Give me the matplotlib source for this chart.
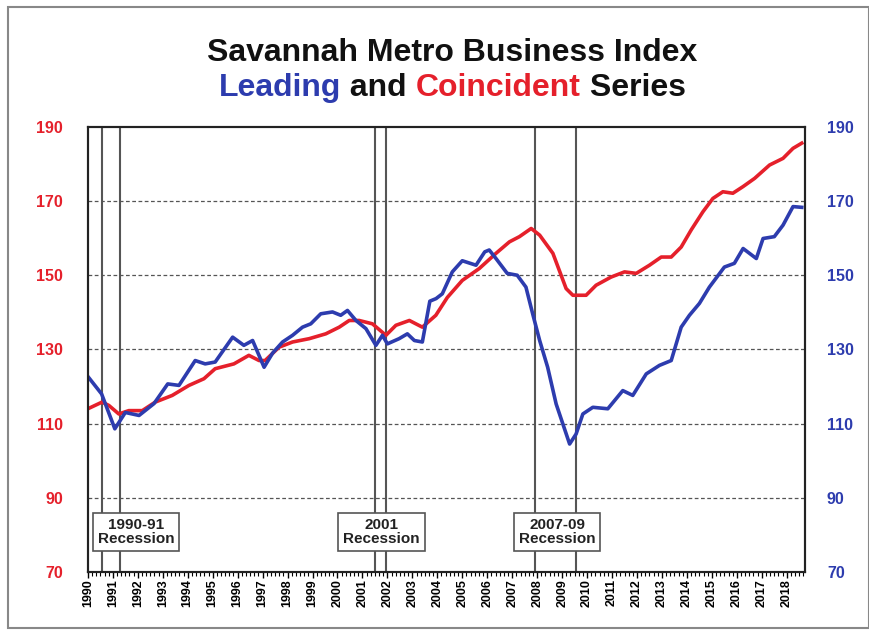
import matplotlib
matplotlib.use("Agg")
import matplotlib.pyplot as plt
import numpy as np
from matplotlib.patches import Rectangle

plt.rcParams['font.family'] = ['Liberation Sans', 'DejaVu Sans']

# Leading series (time in fractional years, index value)
lead_t = [1990.0, 1990.55, 1991.08, 1991.5, 1992.05, 1992.65, 1993.2, 1993.65, 1994.3, 1994.7,
          1995.1, 1995.8, 1996.25, 1996.6, 1997.06, 1997.4, 1997.8, 1998.2, 1998.6, 1998.93,
          1999.33, 1999.8, 2000.13, 2000.4, 2000.74, 2001.14, 2001.54, 2001.8, 2002.0, 2002.47,
          2002.8, 2003.08, 2003.4, 2003.7, 2003.95, 2004.2, 2004.6, 2005.0, 2005.55, 2005.9,
          2006.08, 2006.35, 2006.8, 2007.2, 2007.55, 2007.82, 2008.1, 2008.42, 2008.76, 2009.3,
          2009.56, 2009.83, 2010.23, 2010.83, 2011.43, 2011.83, 2012.37, 2012.9, 2013.37, 2013.77,
          2014.1, 2014.5, 2014.9, 2015.5, 2015.9, 2016.25, 2016.78, 2017.05, 2017.5, 2017.85,
          2018.25, 2018.6]
lead_v = [122.7, 118.0, 108.6, 113.0, 112.2, 115.4, 120.7, 120.3, 127.0, 126.1,
          126.6, 133.3, 131.1, 132.4, 125.2, 129.0, 132.0, 133.8, 136.0, 136.9,
          139.6, 140.1, 139.2, 140.5, 137.8, 135.6, 131.1, 133.8, 131.5, 132.9,
          134.2, 132.4, 132.0, 143.0, 143.7, 145.0, 150.9, 153.9, 152.7, 156.3,
          156.8, 154.5, 150.5, 150.0, 146.8, 139.6, 132.4, 125.2, 115.3, 104.5,
          107.2, 112.6, 114.4, 114.0, 118.9, 117.6, 123.4, 125.7, 127.0, 136.0,
          139.2, 142.4, 146.8, 152.2, 153.2, 157.2, 154.5, 159.9, 160.4, 163.5,
          168.5, 168.3]

# Coincident series
coin_t = [1990.0, 1990.57, 1990.84, 1991.24, 1991.64, 1992.18, 1992.7, 1993.38, 1994.05, 1994.65,
          1995.1, 1995.85, 1996.45, 1996.86, 1997.1, 1997.66, 1998.2, 1998.87, 1999.53, 2000.07,
          2000.47, 2000.87, 2001.4, 2001.94, 2002.34, 2002.88, 2003.4, 2003.94, 2004.4, 2005.0,
          2005.68, 2006.35, 2006.89, 2007.29, 2007.76, 2008.1, 2008.63, 2009.16, 2009.43, 2009.96,
          2010.36, 2010.96, 2011.5, 2011.97, 2012.5, 2012.97, 2013.37, 2013.77, 2014.17, 2014.64,
          2015.04, 2015.44, 2015.84, 2016.25, 2016.71, 2017.31, 2017.85, 2018.25, 2018.6]
coin_v = [114.0, 115.8, 114.9, 112.6, 113.5, 113.5, 115.8, 117.6, 120.3, 122.1,
          124.8, 126.1, 128.4, 127.0, 127.0, 130.6, 132.0, 132.9, 134.2, 136.0,
          137.8, 137.8, 136.9, 133.8, 136.5, 137.8, 136.0, 139.2, 144.0, 148.6,
          151.8, 155.9, 159.0, 160.4, 162.6, 160.8, 155.9, 146.4, 144.6, 144.6,
          147.3, 149.5, 150.9, 150.5, 152.7, 154.9, 154.9, 157.6, 162.2, 167.1,
          170.7, 172.5, 172.1, 173.9, 176.1, 179.7, 181.5, 184.2, 185.6]

# Recession boundaries
rec_lines = [1990.55, 1991.3, 2001.5, 2001.95, 2007.9, 2009.55]
rec_labels = ["1990-91\nRecession", "2001\nRecession", "2007-09\nRecession"]
rec_label_x = [1991.93, 2001.75, 2008.8]
years = list(range(1990, 2019))
yticks = [70, 90, 110, 130, 150, 170, 190]

RED = "#e5202b"
BLUE = "#2d3cae"

fig = plt.figure(figsize=(8.7, 6.31), dpi=100)
fig.patches.append(Rectangle((0.009, 0.005), 0.99, 0.984, transform=fig.transFigure,
                             fill=False, edgecolor="#888888", linewidth=1.5))
ax = fig.add_axes([0.101, 0.0935, 0.824, 0.7055])
ax.set_xlim(1990.0, 2018.72)
ax.set_ylim(70, 190)

for yv in yticks[1:-1]:
    ax.axhline(yv, color="#555555", linestyle=(0, (3, 2)), linewidth=0.9, zorder=1)
for xv in rec_lines:
    ax.axvline(xv, color="#555555", linewidth=1.5, zorder=2)

ax.plot(coin_t, coin_v, color=RED, linewidth=2.6, zorder=4, solid_joinstyle='round')
ax.plot(lead_t, lead_v, color=BLUE, linewidth=2.6, zorder=5, solid_joinstyle='round')

for lx, lab in zip(rec_label_x, rec_labels):
    ax.text(lx, 80.8, lab, ha="center", va="center", fontsize=11, fontweight="bold",
            color="#222222", zorder=6, linespacing=1.05,
            bbox=dict(boxstyle="square,pad=0.33", facecolor="white", edgecolor="#555555", linewidth=1.2))

ax.set_yticks(yticks)
ax.set_yticklabels([str(v) for v in yticks], color=RED, fontweight="bold", fontsize=11.5)
ax.tick_params(axis="y", length=0, pad=18)
ay = ax.twinx()
ay.set_ylim(70, 190)
ay.set_yticks(yticks)
ay.set_yticklabels([str(v) for v in yticks], color=BLUE, fontweight="bold", fontsize=11.5)
ay.tick_params(axis="y", length=0, pad=16)

ax.set_xticks(years)
ax.set_xticklabels([str(y) for y in years], rotation=90, fontsize=9,
                   fontweight="bold", family=['Liberation Sans Narrow', 'Liberation Sans'])
ax.set_xticks(np.arange(1990, 2018.75, 1 / 6), minor=True)
ax.tick_params(axis="x", which="major", length=4, width=1, direction="out", pad=1)
ax.tick_params(axis="x", which="minor", length=3, width=0.8, direction="out")
for a in (ax, ay):
    for s in a.spines.values():
        s.set_linewidth(1.5)
        s.set_color("#222222")

TS = 23
XC = 0.52
fig.text(XC, 0.903, "Savannah Metro Business Index", ha="center", va="baseline",
         fontsize=TS, fontweight="bold", color="#111111")
# second line with coloured words
parts = [("Leading", BLUE), (" and ", "#111111"), ("Coincident", RED), (" Series", "#111111")]
fig.canvas.draw()
r = fig.canvas.get_renderer()
full = fig.text(0, 0, "".join(s for s, _ in parts), fontsize=TS, fontweight="bold")
total = full.get_window_extent(renderer=r).width
full.remove()
x0 = XC * fig.bbox.width - total / 2
for s, c in parts:
    t = fig.text(x0 / fig.bbox.width, 0.848, s, ha="left", va="baseline", fontsize=TS,
                 fontweight="bold", color=c)
    x0 += t.get_window_extent(renderer=r).width

fig.savefig("out.png", dpi=100)
